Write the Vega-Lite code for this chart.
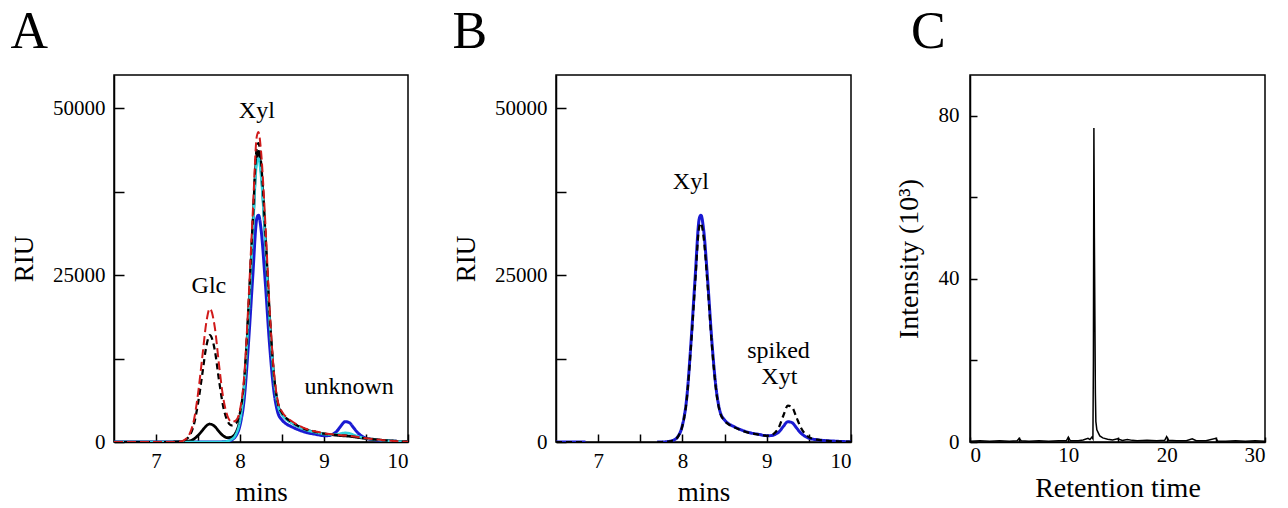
{
  "$schema": "https://vega.github.io/schema/vega-lite/v6.json",
  "padding": {"left": 9, "top": 5, "right": 5, "bottom": 0},
  "background": "white",
  "config": {
    "font": "Liberation Serif",
    "view": {"stroke": "black", "strokeWidth": 1.5},
    "axis": {"grid": false, "domainColor": "black", "domainWidth": 1.5, "tickColor": "black", "tickWidth": 1.5, "labelColor": "black", "titleColor": "black", "labelFont": "Liberation Serif", "titleFont": "Liberation Serif", "labelFontSize": 21, "titleFontSize": 27, "titleFontWeight": "normal"},
    "title": {"font": "Liberation Serif", "fontSize": 52, "fontWeight": "normal", "anchor": "start", "frame": "bounds", "color": "black"},
    "concat": {"spacing": 41}
  },
  "datasets": {
    "a": [
      {"t":6.5,"v":0,"s":"blue"},{"t":7.0,"v":0,"s":"blue"},{"t":7.5,"v":0,"s":"blue"},{"t":7.75,"v":0,"s":"blue"},{"t":7.8,"v":34,"s":"blue"},{"t":7.85,"v":102,"s":"blue"},{"t":7.9,"v":306,"s":"blue"},{"t":7.95,"v":884,"s":"blue"},{"t":8.0,"v":2516,"s":"blue"},{"t":8.05,"v":6460,"s":"blue"},{"t":8.1,"v":14620,"s":"blue"},{"t":8.15,"v":24480,"s":"blue"},{"t":8.2,"v":33490,"s":"blue"},{"t":8.22,"v":34000,"s":"blue"},{"t":8.25,"v":31960,"s":"blue"},{"t":8.3,"v":24140,"s":"blue"},{"t":8.35,"v":14960,"s":"blue"},{"t":8.4,"v":7990,"s":"blue"},{"t":8.45,"v":4420,"s":"blue"},{"t":8.5,"v":3298,"s":"blue"},{"t":8.55,"v":2720,"s":"blue"},{"t":8.6,"v":2380,"s":"blue"},{"t":8.7,"v":1802,"s":"blue"},{"t":8.8,"v":1394,"s":"blue"},{"t":8.9,"v":1156,"s":"blue"},{"t":9.0,"v":952,"s":"blue"},{"t":9.05,"v":956,"s":"blue"},{"t":9.1,"v":1138,"s":"blue"},{"t":9.15,"v":1574,"s":"blue"},{"t":9.2,"v":2380,"s":"blue"},{"t":9.25,"v":3042,"s":"blue"},{"t":9.3,"v":2912,"s":"blue"},{"t":9.35,"v":2172,"s":"blue"},{"t":9.4,"v":1408,"s":"blue"},{"t":9.45,"v":884,"s":"blue"},{"t":9.5,"v":576,"s":"blue"},{"t":9.6,"v":330,"s":"blue"},{"t":9.7,"v":204,"s":"blue"},{"t":9.8,"v":136,"s":"blue"},{"t":9.9,"v":68,"s":"blue"},{"t":10.0,"v":34,"s":"blue"},
      {"t":6.5,"v":0,"s":"k1"},{"t":7.0,"v":0,"s":"k1"},{"t":7.2,"v":0,"s":"k1"},{"t":7.3,"v":14,"s":"k1"},{"t":7.35,"v":54,"s":"k1"},{"t":7.4,"v":162,"s":"k1"},{"t":7.45,"v":432,"s":"k1"},{"t":7.5,"v":972,"s":"k1"},{"t":7.55,"v":1701,"s":"k1"},{"t":7.6,"v":2430,"s":"k1"},{"t":7.64,"v":2700,"s":"k1"},{"t":7.7,"v":2322,"s":"k1"},{"t":7.75,"v":1566,"s":"k1"},{"t":7.8,"v":935,"s":"k1"},{"t":7.85,"v":644,"s":"k1"},{"t":7.9,"v":743,"s":"k1"},{"t":7.95,"v":1401,"s":"k1"},{"t":8.0,"v":3408,"s":"k1"},{"t":8.05,"v":8400,"s":"k1"},{"t":8.1,"v":18813,"s":"k1"},{"t":8.15,"v":31401,"s":"k1"},{"t":8.2,"v":42902,"s":"k1"},{"t":8.22,"v":43549,"s":"k1"},{"t":8.25,"v":40931,"s":"k1"},{"t":8.3,"v":30912,"s":"k1"},{"t":8.35,"v":19159,"s":"k1"},{"t":8.4,"v":10237,"s":"k1"},{"t":8.45,"v":5663,"s":"k1"},{"t":8.5,"v":4225,"s":"k1"},{"t":8.55,"v":3480,"s":"k1"},{"t":8.6,"v":3045,"s":"k1"},{"t":8.7,"v":2306,"s":"k1"},{"t":8.8,"v":1784,"s":"k1"},{"t":8.9,"v":1479,"s":"k1"},{"t":9.0,"v":1218,"s":"k1"},{"t":9.1,"v":1088,"s":"k1"},{"t":9.2,"v":957,"s":"k1"},{"t":9.3,"v":870,"s":"k1"},{"t":9.4,"v":696,"s":"k1"},{"t":9.5,"v":522,"s":"k1"},{"t":9.6,"v":392,"s":"k1"},{"t":9.7,"v":261,"s":"k1"},{"t":9.8,"v":174,"s":"k1"},{"t":9.9,"v":87,"s":"k1"},{"t":10.0,"v":44,"s":"k1"},
      {"t":6.5,"v":0,"s":"cyan"},{"t":7.0,"v":0,"s":"cyan"},{"t":7.5,"v":0,"s":"cyan"},{"t":7.75,"v":0,"s":"cyan"},{"t":7.8,"v":43,"s":"cyan"},{"t":7.85,"v":128,"s":"cyan"},{"t":7.9,"v":383,"s":"cyan"},{"t":7.95,"v":1105,"s":"cyan"},{"t":8.0,"v":3145,"s":"cyan"},{"t":8.05,"v":8075,"s":"cyan"},{"t":8.1,"v":18275,"s":"cyan"},{"t":8.15,"v":30600,"s":"cyan"},{"t":8.2,"v":41863,"s":"cyan"},{"t":8.22,"v":42500,"s":"cyan"},{"t":8.25,"v":39950,"s":"cyan"},{"t":8.3,"v":30175,"s":"cyan"},{"t":8.35,"v":18700,"s":"cyan"},{"t":8.4,"v":9988,"s":"cyan"},{"t":8.45,"v":5525,"s":"cyan"},{"t":8.5,"v":4123,"s":"cyan"},{"t":8.55,"v":3400,"s":"cyan"},{"t":8.6,"v":2975,"s":"cyan"},{"t":8.7,"v":2253,"s":"cyan"},{"t":8.8,"v":1743,"s":"cyan"},{"t":8.9,"v":1445,"s":"cyan"},{"t":9.0,"v":1190,"s":"cyan"},{"t":9.05,"v":1120,"s":"cyan"},{"t":9.1,"v":1123,"s":"cyan"},{"t":9.15,"v":1143,"s":"cyan"},{"t":9.2,"v":1275,"s":"cyan"},{"t":9.25,"v":1378,"s":"cyan"},{"t":9.3,"v":1315,"s":"cyan"},{"t":9.35,"v":1090,"s":"cyan"},{"t":9.4,"v":860,"s":"cyan"},{"t":9.45,"v":680,"s":"cyan"},{"t":9.5,"v":545,"s":"cyan"},{"t":9.6,"v":388,"s":"cyan"},{"t":9.7,"v":255,"s":"cyan"},{"t":9.8,"v":170,"s":"cyan"},{"t":9.9,"v":85,"s":"cyan"},{"t":10.0,"v":43,"s":"cyan"},
      {"t":6.5,"v":0,"s":"k2"},{"t":7.0,"v":0,"s":"k2"},{"t":7.2,"v":0,"s":"k2"},{"t":7.3,"v":80,"s":"k2"},{"t":7.35,"v":320,"s":"k2"},{"t":7.4,"v":960,"s":"k2"},{"t":7.45,"v":2560,"s":"k2"},{"t":7.5,"v":5760,"s":"k2"},{"t":7.55,"v":10080,"s":"k2"},{"t":7.6,"v":14400,"s":"k2"},{"t":7.64,"v":16000,"s":"k2"},{"t":7.7,"v":13760,"s":"k2"},{"t":7.75,"v":9280,"s":"k2"},{"t":7.8,"v":5325,"s":"k2"},{"t":7.85,"v":3174,"s":"k2"},{"t":7.9,"v":2481,"s":"k2"},{"t":7.95,"v":2757,"s":"k2"},{"t":8.0,"v":4413,"s":"k2"},{"t":8.05,"v":9255,"s":"k2"},{"t":8.1,"v":19775,"s":"k2"},{"t":8.15,"v":32520,"s":"k2"},{"t":8.2,"v":44153,"s":"k2"},{"t":8.22,"v":44788,"s":"k2"},{"t":8.25,"v":42070,"s":"k2"},{"t":8.3,"v":31755,"s":"k2"},{"t":8.35,"v":19692,"s":"k2"},{"t":8.4,"v":10538,"s":"k2"},{"t":8.45,"v":5833,"s":"k2"},{"t":8.5,"v":4349,"s":"k2"},{"t":8.55,"v":3576,"s":"k2"},{"t":8.6,"v":3115,"s":"k2"},{"t":8.7,"v":2359,"s":"k2"},{"t":8.8,"v":1825,"s":"k2"},{"t":8.9,"v":1513,"s":"k2"},{"t":9.0,"v":1246,"s":"k2"},{"t":9.1,"v":1113,"s":"k2"},{"t":9.2,"v":979,"s":"k2"},{"t":9.3,"v":890,"s":"k2"},{"t":9.4,"v":712,"s":"k2"},{"t":9.5,"v":534,"s":"k2"},{"t":9.6,"v":401,"s":"k2"},{"t":9.7,"v":267,"s":"k2"},{"t":9.8,"v":178,"s":"k2"},{"t":9.9,"v":89,"s":"k2"},{"t":10.0,"v":45,"s":"k2"},
      {"t":6.5,"v":0,"s":"red"},{"t":7.0,"v":0,"s":"red"},{"t":7.2,"v":0,"s":"red"},{"t":7.3,"v":100,"s":"red"},{"t":7.35,"v":400,"s":"red"},{"t":7.4,"v":1200,"s":"red"},{"t":7.45,"v":3200,"s":"red"},{"t":7.5,"v":7200,"s":"red"},{"t":7.55,"v":12600,"s":"red"},{"t":7.6,"v":18000,"s":"red"},{"t":7.64,"v":20000,"s":"red"},{"t":7.7,"v":17200,"s":"red"},{"t":7.75,"v":11600,"s":"red"},{"t":7.8,"v":6647,"s":"red"},{"t":7.85,"v":3940,"s":"red"},{"t":7.9,"v":3019,"s":"red"},{"t":7.95,"v":3209,"s":"red"},{"t":8.0,"v":4841,"s":"red"},{"t":8.05,"v":9835,"s":"red"},{"t":8.1,"v":20795,"s":"red"},{"t":8.15,"v":33792,"s":"red"},{"t":8.2,"v":45809,"s":"red"},{"t":8.22,"v":46460,"s":"red"},{"t":8.25,"v":43634,"s":"red"},{"t":8.3,"v":33215,"s":"red"},{"t":8.35,"v":20600,"s":"red"},{"t":8.4,"v":11028,"s":"red"},{"t":8.45,"v":6105,"s":"red"},{"t":8.5,"v":4551,"s":"red"},{"t":8.55,"v":3740,"s":"red"},{"t":8.6,"v":3255,"s":"red"},{"t":8.7,"v":2465,"s":"red"},{"t":8.8,"v":1907,"s":"red"},{"t":8.9,"v":1581,"s":"red"},{"t":9.0,"v":1302,"s":"red"},{"t":9.1,"v":1163,"s":"red"},{"t":9.2,"v":1023,"s":"red"},{"t":9.3,"v":930,"s":"red"},{"t":9.4,"v":744,"s":"red"},{"t":9.5,"v":558,"s":"red"},{"t":9.6,"v":419,"s":"red"},{"t":9.7,"v":279,"s":"red"},{"t":9.8,"v":186,"s":"red"},{"t":9.9,"v":93,"s":"red"},{"t":10.0,"v":47,"s":"red"}
    ],
    "b": [
      {"t":6.5,"v":0,"s":"blue","g":"1"},{"t":6.85,"v":0,"s":"blue","g":"1"},
      {"t":7.7,"v":0,"s":"blue","g":"2"},{"t":7.75,"v":0,"s":"blue","g":"2"},{"t":7.8,"v":34,"s":"blue","g":"2"},{"t":7.85,"v":102,"s":"blue","g":"2"},{"t":7.9,"v":306,"s":"blue","g":"2"},{"t":7.95,"v":884,"s":"blue","g":"2"},{"t":8.0,"v":2516,"s":"blue","g":"2"},{"t":8.05,"v":6460,"s":"blue","g":"2"},{"t":8.1,"v":14620,"s":"blue","g":"2"},{"t":8.15,"v":24480,"s":"blue","g":"2"},{"t":8.2,"v":33490,"s":"blue","g":"2"},{"t":8.22,"v":34000,"s":"blue","g":"2"},{"t":8.25,"v":31960,"s":"blue","g":"2"},{"t":8.3,"v":24140,"s":"blue","g":"2"},{"t":8.35,"v":14960,"s":"blue","g":"2"},{"t":8.4,"v":7990,"s":"blue","g":"2"},{"t":8.45,"v":4420,"s":"blue","g":"2"},{"t":8.5,"v":3298,"s":"blue","g":"2"},{"t":8.55,"v":2720,"s":"blue","g":"2"},{"t":8.6,"v":2380,"s":"blue","g":"2"},{"t":8.7,"v":1802,"s":"blue","g":"2"},{"t":8.8,"v":1394,"s":"blue","g":"2"},{"t":8.9,"v":1156,"s":"blue","g":"2"},{"t":9.0,"v":952,"s":"blue","g":"2"},{"t":9.05,"v":956,"s":"blue","g":"2"},{"t":9.1,"v":1138,"s":"blue","g":"2"},{"t":9.15,"v":1574,"s":"blue","g":"2"},{"t":9.2,"v":2380,"s":"blue","g":"2"},{"t":9.25,"v":3042,"s":"blue","g":"2"},{"t":9.3,"v":2912,"s":"blue","g":"2"},{"t":9.35,"v":2172,"s":"blue","g":"2"},{"t":9.4,"v":1408,"s":"blue","g":"2"},{"t":9.45,"v":884,"s":"blue","g":"2"},{"t":9.5,"v":576,"s":"blue","g":"2"},{"t":9.6,"v":330,"s":"blue","g":"2"},{"t":9.7,"v":204,"s":"blue","g":"2"},{"t":9.8,"v":136,"s":"blue","g":"2"},{"t":9.9,"v":68,"s":"blue","g":"2"},{"t":10.0,"v":34,"s":"blue","g":"2"},
      {"t":6.5,"v":0,"s":"k2","g":"1"},{"t":6.85,"v":0,"s":"k2","g":"1"},
      {"t":7.7,"v":0,"s":"k2","g":"2"},{"t":7.75,"v":0,"s":"k2","g":"2"},{"t":7.8,"v":33,"s":"k2","g":"2"},{"t":7.85,"v":98,"s":"k2","g":"2"},{"t":7.9,"v":295,"s":"k2","g":"2"},{"t":7.95,"v":853,"s":"k2","g":"2"},{"t":8.0,"v":2427,"s":"k2","g":"2"},{"t":8.05,"v":6232,"s":"k2","g":"2"},{"t":8.1,"v":14104,"s":"k2","g":"2"},{"t":8.15,"v":23616,"s":"k2","g":"2"},{"t":8.2,"v":32308,"s":"k2","g":"2"},{"t":8.22,"v":32800,"s":"k2","g":"2"},{"t":8.25,"v":30832,"s":"k2","g":"2"},{"t":8.3,"v":23288,"s":"k2","g":"2"},{"t":8.35,"v":14432,"s":"k2","g":"2"},{"t":8.4,"v":7708,"s":"k2","g":"2"},{"t":8.45,"v":4264,"s":"k2","g":"2"},{"t":8.5,"v":3182,"s":"k2","g":"2"},{"t":8.55,"v":2624,"s":"k2","g":"2"},{"t":8.6,"v":2296,"s":"k2","g":"2"},{"t":8.7,"v":1738,"s":"k2","g":"2"},{"t":8.8,"v":1345,"s":"k2","g":"2"},{"t":8.9,"v":1115,"s":"k2","g":"2"},{"t":9.0,"v":918,"s":"k2","g":"2"},{"t":9.05,"v":1000,"s":"k2","g":"2"},{"t":9.1,"v":1408,"s":"k2","g":"2"},{"t":9.15,"v":2371,"s":"k2","g":"2"},{"t":9.2,"v":4054,"s":"k2","g":"2"},{"t":9.25,"v":5442,"s":"k2","g":"2"},{"t":9.3,"v":5213,"s":"k2","g":"2"},{"t":9.35,"v":3775,"s":"k2","g":"2"},{"t":9.4,"v":2289,"s":"k2","g":"2"},{"t":9.45,"v":1292,"s":"k2","g":"2"},{"t":9.5,"v":737,"s":"k2","g":"2"},{"t":9.6,"v":344,"s":"k2","g":"2"},{"t":9.7,"v":197,"s":"k2","g":"2"},{"t":9.8,"v":131,"s":"k2","g":"2"},{"t":9.9,"v":66,"s":"k2","g":"2"},{"t":10.0,"v":33,"s":"k2","g":"2"}
    ],
    "c": [
      {"t":0,"v":0.2},{"t":1,"v":0.3},{"t":2,"v":0.2},{"t":3,"v":0.3},{"t":4,"v":0.2},{"t":4.8,"v":0.3},{"t":5,"v":0.9},{"t":5.2,"v":0.3},{"t":6,"v":0.2},{"t":7,"v":0.3},{"t":8,"v":0.2},{"t":9,"v":0.3},{"t":9.8,"v":0.3},{"t":10,"v":1.2},{"t":10.2,"v":0.3},{"t":11,"v":0.3},{"t":11.5,"v":0.5},{"t":12,"v":0.9},{"t":12.2,"v":0.6},{"t":12.4,"v":1.2},{"t":12.5,"v":0.8},{"t":12.55,"v":20},{"t":12.6,"v":77},{"t":12.65,"v":50},{"t":12.7,"v":31},{"t":12.75,"v":12},{"t":12.8,"v":5},{"t":12.9,"v":3},{"t":13.0,"v":2.5},{"t":13.2,"v":1.5},{"t":13.5,"v":1.0},{"t":14,"v":0.7},{"t":14.5,"v":0.5},{"t":15,"v":0.8},{"t":15.5,"v":0.4},{"t":16,"v":0.6},{"t":16.5,"v":0.4},{"t":17,"v":0.3},{"t":18,"v":0.4},{"t":19,"v":0.3},{"t":19.8,"v":0.4},{"t":20,"v":1.3},{"t":20.2,"v":0.4},{"t":21,"v":0.3},{"t":22,"v":0.3},{"t":22.6,"v":0.8},{"t":23,"v":0.3},{"t":24,"v":0.3},{"t":25,"v":0.9},{"t":25.2,"v":0.2},{"t":26,"v":0.2},{"t":27,"v":0.3},{"t":28,"v":0.2},{"t":29,"v":0.3},{"t":30,"v":0.2}
    ],
    "la": [
      {"t":7.63,"v":22300,"label":"Glc"},{"t":8.2,"v":48500,"label":"Xyl"},{"t":9.3,"v":7150,"label":"unknown"}
    ],
    "lb": [
      {"t":8.1,"v":37900,"label":"Xyl"},{"t":9.14,"v":12600,"label":"spiked"},{"t":9.15,"v":8650,"label":"Xyt"}
    ]
  },
  "hconcat": [
    {
      "width": 294, "height": 367,
      "title": {"text": "A", "offset": 16},
      "layer": [
        {
          "data": {"name": "a"},
          "mark": {"type": "line", "interpolate": "monotone", "clip": true},
          "encoding": {
            "x": {"field": "t", "type": "quantitative", "scale": {"domain": [6.5, 10], "nice": false, "zero": false},
                  "axis": {"title": "mins", "values": [7, 7.5, 8, 8.5, 9, 9.5, 10], "labelExpr": "datum.value % 1 == 0 ? format(datum.value, 'd') : ''", "tickSize": -8, "labelPadding": 16, "titlePadding": 8}},
            "y": {"field": "v", "type": "quantitative", "scale": {"domain": [0, 55000], "nice": false},
                  "axis": {"title": "RIU", "values": [0, 12500, 25000, 37500, 50000], "labelExpr": "datum.value % 25000 == 0 ? format(datum.value, 'd') : ''", "tickSize": -10, "labelPadding": 19, "titlePadding": 14}},
            "color": {"field": "s", "type": "nominal", "legend": null, "scale": {"domain": ["blue", "k1", "cyan", "k2", "red"], "range": ["#1a1ad2", "#000000", "#30d2de", "#000000", "#d01a1a"]}},
            "strokeDash": {"field": "s", "type": "nominal", "legend": null, "scale": {"domain": ["blue", "k1", "cyan", "k2", "red"], "range": [[1, 0], [1, 0], [1, 0], [6, 4], [9, 4]]}},
            "strokeWidth": {"field": "s", "type": "nominal", "legend": null, "scale": {"domain": ["blue", "k1", "cyan", "k2", "red"], "range": [3, 2, 4, 1.8, 2.6]}}
          }
        },
        {
          "data": {"name": "la"},
          "mark": {"type": "text", "fontSize": 24, "baseline": "alphabetic", "align": "center", "font": "Liberation Serif", "color": "black"},
          "encoding": {
            "x": {"field": "t", "type": "quantitative"},
            "y": {"field": "v", "type": "quantitative"},
            "text": {"field": "label"}
          }
        }
      ]
    },
    {
      "width": 295, "height": 367,
      "title": {"text": "B", "offset": 16},
      "layer": [
        {
          "data": {"name": "b"},
          "mark": {"type": "line", "interpolate": "monotone", "clip": true},
          "encoding": {
            "x": {"field": "t", "type": "quantitative", "scale": {"domain": [6.5, 10], "nice": false, "zero": false},
                  "axis": {"title": "mins", "values": [7, 7.5, 8, 8.5, 9, 9.5, 10], "labelExpr": "datum.value % 1 == 0 ? format(datum.value, 'd') : ''", "tickSize": -8, "labelPadding": 16, "titlePadding": 8}},
            "y": {"field": "v", "type": "quantitative", "scale": {"domain": [0, 55000], "nice": false},
                  "axis": {"title": "RIU", "values": [0, 12500, 25000, 37500, 50000], "labelExpr": "datum.value % 25000 == 0 ? format(datum.value, 'd') : ''", "tickSize": -10, "labelPadding": 19, "titlePadding": 14}},
            "detail": {"field": "g", "type": "nominal"},
            "color": {"field": "s", "type": "nominal", "legend": null, "scale": {"domain": ["blue", "k2"], "range": ["#1a1ad2", "#000000"]}},
            "strokeDash": {"field": "s", "type": "nominal", "legend": null, "scale": {"domain": ["blue", "k2"], "range": [[1, 0], [9, 5]]}},
            "strokeWidth": {"field": "s", "type": "nominal", "legend": null, "scale": {"domain": ["blue", "k2"], "range": [3, 2]}}
          }
        },
        {
          "data": {"name": "lb"},
          "mark": {"type": "text", "fontSize": 24, "baseline": "alphabetic", "align": "center", "font": "Liberation Serif", "color": "black"},
          "encoding": {
            "x": {"field": "t", "type": "quantitative"},
            "y": {"field": "v", "type": "quantitative"},
            "text": {"field": "label"}
          }
        }
      ]
    },
    {
      "width": 295, "height": 367,
      "title": {"text": "C", "offset": 16, "dx": 16},
      "data": {"name": "c"},
      "mark": {"type": "line", "color": "black", "strokeWidth": 1.5, "clip": true},
      "encoding": {
        "x": {"field": "t", "type": "quantitative", "scale": {"domain": [0, 30], "nice": false},
              "axis": {"title": "Retention time", "values": [0, 5, 10, 15, 20, 25, 30], "labelExpr": "datum.value % 10 == 0 ? datum.label : ''", "tickSize": -5, "labelPadding": 7, "titlePadding": 9, "titleFontSize": 28}},
        "y": {"field": "v", "type": "quantitative", "scale": {"domain": [0, 90], "nice": false},
              "axis": {"title": "Intensity (10³)", "values": [0, 20, 40, 60, 80], "labelExpr": "datum.value % 40 == 0 ? datum.label : ''", "tickSize": -7, "labelPadding": 18, "titlePadding": 15, "titleFontSize": 28}}
      }
    }
  ]
}
